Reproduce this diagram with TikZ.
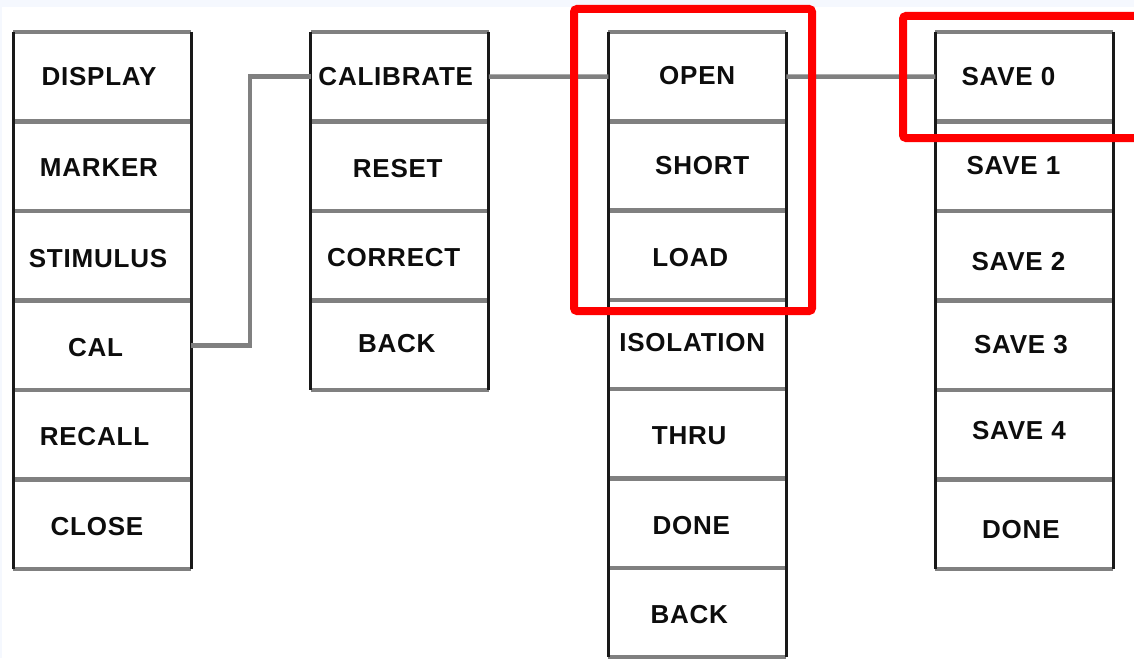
\documentclass[tikz,border=0pt]{standalone}
\usepackage{fontspec}
\setmainfont{Liberation Sans}
\newfontfamily\menufont[LetterSpace=3]{Liberation Sans}
\usetikzlibrary{calc}
\definecolor{rulegray}{RGB}{128,128,128}
\definecolor{edgeblack}{RGB}{24,24,24}
\definecolor{pagetint}{RGB}{245,248,254}
\definecolor{hlred}{RGB}{255,0,0}
\begin{document}
\begin{tikzpicture}[x=1pt,y=-1pt,
  cell/.style={minimum width=178pt, minimum height=#1, inner sep=0pt, outer sep=0pt},
  cell/.default=89.5pt,
  lbl/.style={font=\menufont\fontsize{26}{26}\selectfont\bfseries, text=black!95,
              inner sep=0pt, text height=18.6pt, text depth=0pt},
  sepline/.style={draw=rulegray, line width=4.5pt},
  sideline/.style={draw=edgeblack, line width=3pt},
  link/.style={draw=rulegray, line width=4.5pt},
  hl/.style={draw=hlred, line width=8pt, rounded corners=3pt}]

% page
\fill[pagetint] (0,0) rectangle (1134,658);
\fill[white] (2,7) rectangle (1134,658);
\useasboundingbox (0,0) rectangle (1134,658);

% main menu column
\foreach \lab/\ox/\oy [count=\i] in
  {DISPLAY/-3/-1, MARKER/-3/0.5, STIMULUS/-4/2, CAL/-6.5/2, RECALL/-7.5/1, CLOSE/-5/2} {
  \node[cell] (a\i) at (102, 32+89.5*\i-44.75) {};
  \node[lbl] (ta\i) at ($(a\i)+(\ox,\oy)$) {\lab};
}
% cal menu column
\foreach \lab/\ox/\oy [count=\i] in
  {CALIBRATE/-4/-1, RESET/-2/1.5, CORRECT/-6/1.5, BACK/-3/-2} {
  \node[cell] (b\i) at (399.75, 32+89.5*\i-44.75) {};
  \node[lbl] (tb\i) at ($(b\i)+(\ox,\oy)$) {\lab};
}
% calibrate menu column
\foreach \lab/\ox/\oy [count=\i] in
  {OPEN/0/-1, SHORT/5/-1, LOAD/-7/1.5, ISOLATION/-5/-2, THRU/-8/1.5, DONE/-6/2, BACK/-8/1.5} {
  \node[cell=89.3pt] (c\i) at (697.25, 32+89.3*\i-44.65) {};
  \node[lbl] (tc\i) at ($(c\i)+(\ox,\oy)$) {\lab};
}
% save menu column
\foreach \lab/\ox/\oy [count=\i] in
  {SAVE 0/-16/-1, SAVE 1/-11/-1.5, SAVE 2/-6/5.5, SAVE 3/-3.5/-1.5, SAVE 4/-5.5/-4.5, DONE/-3.5/4.5} {
  \node[cell] (d\i) at (1024.4, 32+89.5*\i-44.75) {};
  \node[lbl] (td\i) at ($(d\i)+(\ox,\oy)$) {\lab};
}

% row rules
\foreach \col/\n in {a/6, b/4, c/7, d/6} {
  \draw[sepline] (\col1.north west) -- (\col1.north east);
  \foreach \k in {1,...,\n}
    \draw[sepline] (\col\k.south west) -- (\col\k.south east);
  \draw[sideline] (\col1.north west) -- (\col\n.south west);
  \draw[sideline] (\col1.north east) -- (\col\n.south east);
}

% menu links
\draw[link] (a4.east) -- ++(59,0) |- (b1.west);
\draw[link] (b1.east) -- (c1.west);
\draw[link] (c1.east) -- (d1.west);

% highlight frames
\draw[hl] (574,9) rectangle (812,311);
\draw[hl] (1150,16) -- (903,16) -- (903,138) -- (1150,138);
\end{tikzpicture}
\end{document}
